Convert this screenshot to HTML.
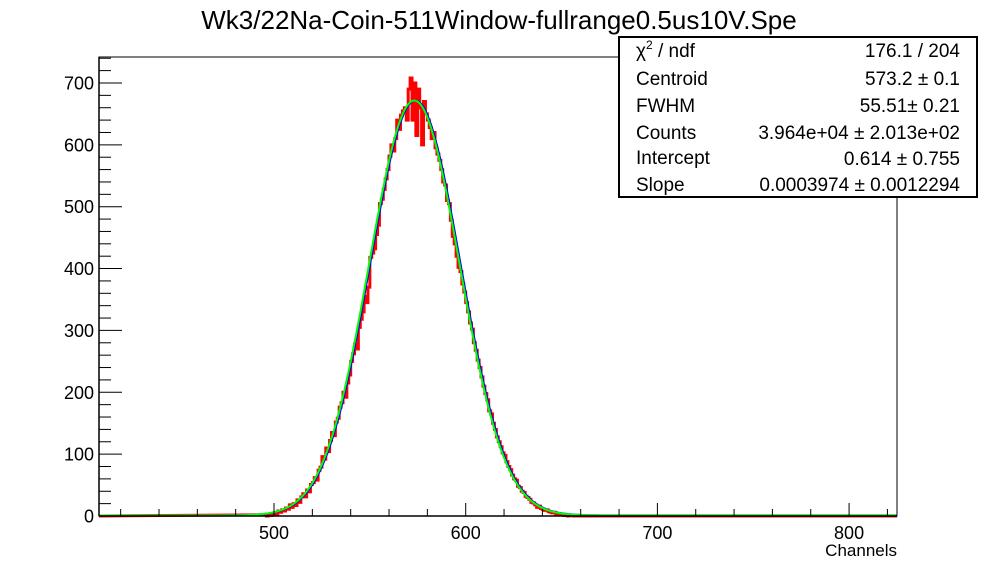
<!DOCTYPE html>
<html><head><meta charset="utf-8"><style>
body{margin:0;background:#fff;font-family:"Liberation Sans",Arial,sans-serif}
#c{position:relative;width:998px;height:574px;overflow:hidden}
svg text{font-family:"Liberation Sans",Arial,sans-serif}
</style></head><body>
<div id="c">
<svg id="svg" width="998" height="574" xmlns="http://www.w3.org/2000/svg">
<text x="499" y="29" font-size="26" text-anchor="middle">Wk3/22Na-Coin-511Window-fullrange0.5us10V.Spe</text>
<rect x="99" y="57" width="798" height="459" fill="none" stroke="#000" stroke-width="1"/>
<g id="hist"></g>
<g id="fit"></g>
<g id="axes"></g>
<text x="897" y="556" font-size="17" text-anchor="end">Channels</text>
<g>
<rect x="619" y="37" width="358" height="160" fill="#fff" stroke="#000" stroke-width="2"/>
<g font-size="19">
<text x="636" y="57">χ<tspan font-size="12" dy="-8">2</tspan><tspan dy="8"> / ndf</tspan></text>
<text x="960" y="57" text-anchor="end">176.1 / 204</text>
<text x="636" y="85">Centroid</text>
<text x="960" y="85" text-anchor="end">573.2 ± 0.1</text>
<text x="636" y="112">FWHM</text>
<text x="960" y="112" text-anchor="end">55.51± 0.21</text>
<text x="636" y="139">Counts</text>
<text x="960" y="139" text-anchor="end">3.964e+04 ± 2.013e+02</text>
<text x="636" y="164">Intercept</text>
<text x="960" y="165" text-anchor="end">0.614 ± 0.755</text>
<text x="636" y="191">Slope</text>
<text x="960" y="191" text-anchor="end">0.0003974 ± 0.0012294</text>
</g></g>
</svg></div>
<script>
const startChannel = 495;
const counts = [2,0,3,1,4,5,3,8,6,10,8,13,11,18,14,20,17,26,22,31,36,31,42,39,51,54,62,58,74,79,96,92,110,104,122,135,130,152,158,176,183,200,192,215,228,250,262,278,270,305,318,330,355,345,370,418,425,432,455,470,505,512,528,545,560,582,600,590,610,640,625,648,655,660,640,690,708,640,700,615,690,660,600,670,650,640,628,610,620,595,585,575,560,540,535,510,505,478,452,440,420,402,395,375,362,345,330,312,302,280,268,252,240,225,210,198,188,170,165,150,140,128,120,112,102,98,88,80,75,66,60,58,48,46,40,38,32,30,27,22,21,18,14,16,12,11,9,10,7,6,5,6,3,4,2,3,1,2,0,1,1];
const fitParams = [573.2, 55.51, 39640, 0.614, 0.0003974]; // centroid, fwhm, counts, intercept, slope
const xTicks = [500,600,700,800];
const yTicks = [0,100,200,300,400,500,600,700];
const xMin=408.7, xMax=825, yMin=0, yMax=742;
const L=99,R=897,T=57,B=516;
const NS='http://www.w3.org/2000/svg';
function sx(v){return L+(v-xMin)/(xMax-xMin)*(R-L);}
function sy(v){return B-(v-yMin)/(yMax-yMin)*(B-T);}
function mk(tag,attrs,parent){const e=document.createElementNS(NS,tag);for(const k in attrs)e.setAttribute(k,attrs[k]);parent.appendChild(e);return e;}
const hist=document.getElementById('hist');
let d='M'+sx(xMin)+' '+sy(0);
counts.forEach((c,i)=>{const x0=sx(startChannel+i),x1=sx(startChannel+i+1);d+=' L'+x0+' '+sy(c)+' L'+x1+' '+sy(c);});
d+=' L'+sx(startChannel+counts.length)+' '+sy(0)+' L'+sx(xMax)+' '+sy(0);
const hp=mk('path',{d:d,fill:'none',stroke:'#f00','stroke-width':3},hist);


const fit=document.getElementById('fit');
const sig=fitParams[1]/2.3548, amp=fitParams[2]/(sig*Math.sqrt(2*Math.PI));
let pts=[];
for(let x=xMin;x<=xMax;x+=0.5){const y=amp*Math.exp(-Math.pow(x-fitParams[0],2)/(2*sig*sig))+fitParams[3]+fitParams[4]*x;pts.push(sx(x).toFixed(1)+','+sy(y).toFixed(1));}
const bl=mk('polyline',{points:pts.join(' '),fill:'none',stroke:'#00f','stroke-width':2,transform:'translate(1,0)'},fit);


const gl=mk('polyline',{points:pts.join(' '),fill:'none',stroke:'#0f0','stroke-width':2},fit);


const ax=document.getElementById('axes');
mk('line',{x1:L,y1:B,x2:R,y2:B,stroke:'#000','stroke-width':1.5},ax);
mk('line',{x1:L,y1:T,x2:L,y2:B,stroke:'#000','stroke-width':1.5},ax);
for(let v=420;v<=820;v+=20){const major=xTicks.includes(v);mk('line',{x1:sx(v),y1:B,x2:sx(v),y2:B-(major?13:7),stroke:'#000','stroke-width':1},ax);}
xTicks.forEach(v=>{const t=mk('text',{x:sx(v),y:B+23,'font-size':18,'text-anchor':'middle'},ax);t.textContent=v;

});
for(let v=0;v<=740;v+=20){const major=v%100===0;mk('line',{x1:L,y1:sy(v),x2:L+(major?23:12),y2:sy(v),stroke:'#000','stroke-width':1},ax);}
yTicks.forEach(v=>{const t=mk('text',{x:L-5,y:sy(v)+6.5,'font-size':18,'text-anchor':'end'},ax);t.textContent=v;

});
</script>
</body></html>
